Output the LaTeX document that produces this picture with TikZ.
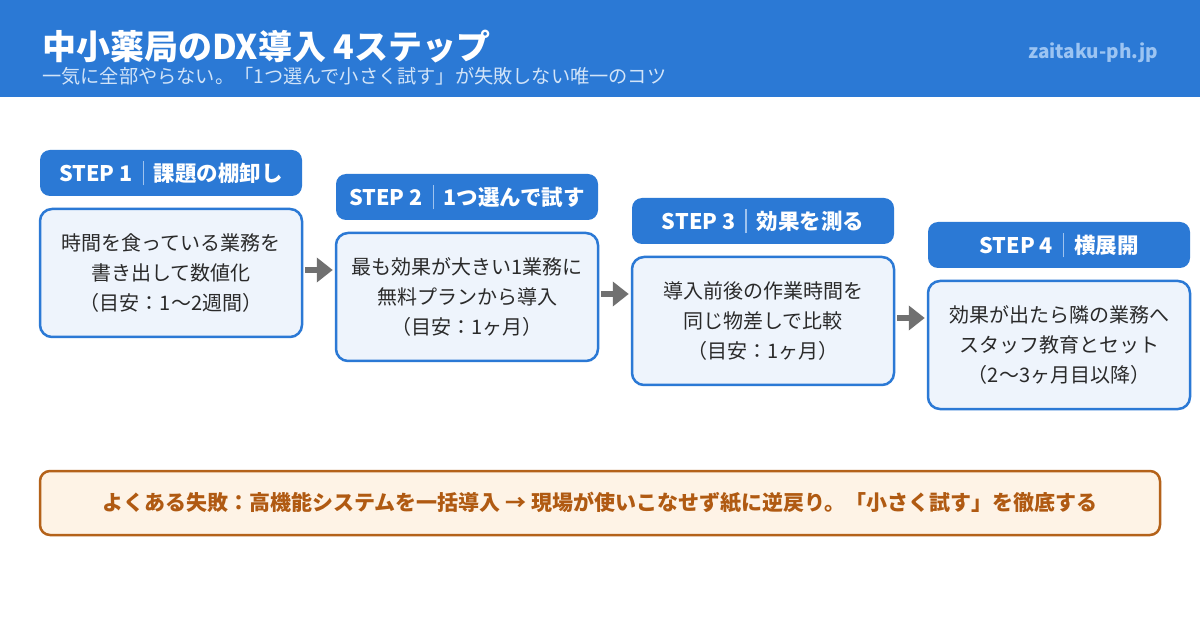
\documentclass[tikz,border=0pt]{standalone}
\usepackage{fontspec}
\setmainfont{Noto Sans CJK JP}
\usetikzlibrary{arrows.meta}
\definecolor{hdr}{HTML}{2B79D5}
\definecolor{subc}{HTML}{D2E4F8}
\definecolor{sitec}{HTML}{9CC4F2}
\definecolor{boxbg}{HTML}{EEF4FC}
\definecolor{txt}{HTML}{2A2A2A}
\definecolor{arrowgray}{HTML}{707070}
\definecolor{divc}{HTML}{9FC3EE}
\definecolor{warnbg}{HTML}{FEF3E6}
\definecolor{warnbd}{HTML}{B4621A}
\definecolor{warntx}{HTML}{B05A12}
\newcommand{\stepsep}{\hspace{10pt}\textcolor{divc}{\rule[-0.18em]{1.2pt}{1.15em}}\hspace{10pt}}
\begin{document}
\begin{tikzpicture}[x=1pt,y=-1pt,
  steplabel/.style={fill=hdr, rounded corners=10pt, minimum width=262pt, minimum height=46pt,
    text=white, font=\fontsize{21.5}{24}\selectfont\bfseries, inner sep=0pt},
  stepbody/.style={fill=boxbg, draw=hdr, line width=2.5pt, rounded corners=12pt,
    minimum width=262pt, minimum height=128pt, text=txt,
    font=\fontsize{20}{30}\selectfont, align=center, inner sep=0pt},
  flow/.style={draw=arrowgray, line width=6pt, -{Triangle[length=16pt,width=24pt]},
    shorten >=2pt, shorten <=2pt},
  warnbox/.style={fill=warnbg, draw=warnbd, line width=2.5pt, rounded corners=10pt,
    minimum width=1120pt, minimum height=64pt, text=warntx,
    font=\fontsize{21}{24}\selectfont\bfseries, inner sep=0pt}]
\useasboundingbox (0,0) rectangle (1200,620);
\fill[white] (0,0) rectangle (1200,620);
% header
\fill[hdr] (0,0) rectangle (1200,97);
\node[anchor=base west, inner sep=0pt, text=white, font=\fontsize{34}{38}\selectfont\bfseries] (title) at (42,60) {中小薬局のDX導入 4ステップ};
\node[anchor=base west, inner sep=0pt, text=subc, font=\fontsize{19.2}{22}\selectfont] (subtitle) at (42,84) {一気に全部やらない。「1つ選んで小さく試す」が失敗しない唯一のコツ};
\node[anchor=base east, inner sep=0pt, text=sitec, font=\fontsize{19}{22}\selectfont\bfseries] (site) at (1158,59) {zaitaku-ph.jp};
% steps
\node[steplabel] (l1) at (171,173) {STEP 1\stepsep 課題の棚卸し};
\node[stepbody] (c1) at (171,273) {時間を食っている業務を\\書き出して数値化\\（目安：1〜2週間）};
\node[steplabel] (l2) at (467,197) {STEP 2\stepsep 1つ選んで試す};
\node[stepbody] (c2) at (467,297) {最も効果が大きい1業務に\\無料プランから導入\\（目安：1ヶ月）};
\node[steplabel] (l3) at (763,221) {STEP 3\stepsep 効果を測る};
\node[stepbody] (c3) at (763,321) {導入前後の作業時間を\\同じ物差しで比較\\（目安：1ヶ月）};
\node[steplabel] (l4) at (1059,245) {STEP 4\stepsep 横展開};
\node[stepbody] (c4) at (1059,345) {効果が出たら隣の業務へ\\スタッフ教育とセット\\（2〜3ヶ月目以降）};
% arrows
\draw[flow] ([yshift=3pt]c1.east) -- ([yshift=3pt]c1.east -| c2.west);
\draw[flow] ([yshift=3pt]c2.east) -- ([yshift=3pt]c2.east -| c3.west);
\draw[flow] ([yshift=3pt]c3.east) -- ([yshift=3pt]c3.east -| c4.west);
% warning
\node[warnbox] (warn) at (600,503) {よくある失敗：高機能システムを一括導入 → 現場が使いこなせず紙に逆戻り。「小さく試す」を徹底する};
\end{tikzpicture}
\end{document}
